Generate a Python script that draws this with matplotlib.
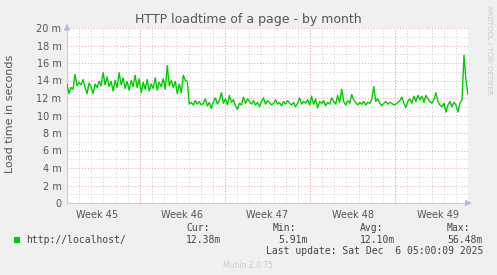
import datetime as dt
import numpy as np
import matplotlib
matplotlib.use('Agg')
import matplotlib.pyplot as plt
import matplotlib.dates as mdates

## donnees (secondes -> ms)

title = "HTTP loadtime of a page - by month"
ylabel = "Load time in seconds"
series_name = "http://localhost/"

start = dt.datetime(2025, 11, 3, 0, 0)
end = dt.datetime(2025, 12, 6, 0, 0)

# avant la chute (~10 jours)
load_high = [13.6, 12.5, 13.2, 13.0, 14.7, 13.4, 13.8, 13.5, 14.1, 13.2,
             12.5, 13.7, 13.3, 12.5, 13.6, 13.2, 13.9, 13.4, 14.9, 13.5,
             14.4, 13.3, 13.9, 12.8, 14.0, 13.2, 14.9, 13.5, 14.3, 13.1,
             13.9, 12.9, 14.0, 13.3, 14.6, 13.2, 14.2, 12.6, 13.8, 13.0,
             14.1, 12.8, 13.6, 13.1, 14.3, 12.9, 13.8, 13.3, 14.2, 13.0,
             15.7, 13.4, 14.0, 13.2, 13.9, 12.5, 13.6, 12.6, 14.6, 14.0,
             13.9]
# apres la chute
load_low = [11.3, 11.5, 11.2, 11.7, 11.3, 11.6, 11.2, 11.4, 11.9, 11.1,
            11.5, 10.8, 11.6, 12.0, 11.3, 11.7, 12.6, 11.4, 11.9, 11.2,
            12.3, 11.5, 11.8, 11.1, 10.7, 11.4, 11.2, 12.1, 11.4, 11.9,
            11.6, 11.3, 11.7, 11.2, 11.5, 11.0, 11.6, 12.0, 11.3, 11.7,
            11.5, 11.2, 11.4, 11.8, 11.3, 11.5, 11.1, 11.6, 11.3, 11.7,
            11.4, 11.2, 11.5, 11.0, 11.4, 12.0, 11.3, 11.6, 11.4, 11.8,
            11.2, 12.2, 11.3, 11.9, 10.9, 11.6, 11.4, 11.7, 11.1, 11.5,
            11.3, 12.0, 11.6, 11.3, 12.3, 11.5, 13.0, 11.6, 11.2, 11.7,
            11.4, 12.4, 11.8, 11.5, 11.2, 11.5, 11.3, 11.6, 11.2, 11.5,
            11.4, 11.8, 13.3, 11.6, 11.9, 11.4, 11.1, 11.4, 11.6, 11.3,
            11.5, 11.4, 11.2, 11.3, 11.5, 11.7, 12.1, 11.4, 10.9, 11.6,
            11.9, 11.4, 12.2, 11.6, 12.3, 11.8, 12.2, 11.5, 12.3, 11.9,
            11.6, 11.4, 11.8, 12.6, 11.6, 11.2, 11.0, 11.4, 10.4, 11.2,
            11.6, 11.0, 11.5, 11.2, 10.4, 11.4, 11.8, 16.9, 14.0, 12.4]

week_labels = ["Week 45", "Week 46", "Week 47", "Week 48", "Week 49"]
week_starts = [dt.datetime(2025, 11, 2), dt.datetime(2025, 11, 9), dt.datetime(2025, 11, 16),
               dt.datetime(2025, 11, 23), dt.datetime(2025, 11, 30)]

yticks = list(range(0, 21, 2))
ytick_labels = ["0"] + ["%d m" % v for v in yticks[1:]]

cur, vmin, avg, vmax = "12.38m", "5.91m", "12.10m", "56.48m"
last_update = "Last update: Sat Dec  6 05:00:09 2025"

values = np.array(load_high + load_low)
t0 = mdates.date2num(start)
t1 = mdates.date2num(end)
times = np.linspace(t0, t1, len(values))

## figure

W, H = 497, 275
fig = plt.figure(figsize=(W / 100, H / 100), dpi=100)
fig.patch.set_facecolor('#F0F0F0')
ax = fig.add_axes([67 / W, (H - 203) / H, (468 - 67) / W, (203 - 28) / H])
ax.set_facecolor('white')

ax.set_xlim(t0, t1)
ax.set_ylim(0, 20)

# grille mineure (jours / 1 m)
for d in np.arange(np.ceil(t0), t1 + 0.01, 1.0):
    ax.axvline(d, color='#cfcfcf', lw=0.7, ls=(0, (1, 2)), zorder=1)
for y in range(1, 21, 2):
    ax.axhline(y, color='#cfcfcf', lw=0.7, ls=(0, (1, 2)), zorder=1)
# grille majeure (semaines / 2 m)
for w in week_starts:
    wn = mdates.date2num(w)
    if t0 < wn < t1:
        ax.axvline(wn, color='#e8a0a0', lw=0.7, ls=(0, (1, 2)), zorder=2)
for y in yticks[1:]:
    ax.axhline(y, color='#e8a0a0', lw=0.7, ls=(0, (1, 2)), zorder=2)

ax.plot(times, values, color='#00CC00', lw=1.0, zorder=3)

# axes
for s in ['top', 'right']:
    ax.spines[s].set_visible(False)
for s in ['left', 'bottom']:
    ax.spines[s].set_color('#c8c8f0')
    ax.spines[s].set_linewidth(0.8)

ax.set_yticks(yticks)
ax.set_yticklabels(ytick_labels)
label_pos = [mdates.date2num(w) + 3.5 for w in week_starts]
ax.set_xticks(label_pos)
ax.set_xticklabels(week_labels)
ax.tick_params(axis='both', length=0, labelsize=7, colors='#555555', pad=4)
ax.tick_params(axis='x', pad=5)

# fleches
ax.annotate('', xy=(t0, 20.8), xytext=(t0, 19.5), annotation_clip=False,
            arrowprops=dict(arrowstyle='-|>', color='#b8b8f0', lw=0.8, mutation_scale=9))
ax.annotate('', xy=(t1 + 0.55, 0), xytext=(t1 - 0.3, 0), annotation_clip=False,
            arrowprops=dict(arrowstyle='-|>', color='#b8b8f0', lw=0.8, mutation_scale=9))

## textes

fig.text(248 / W, 1 - 19 / H, title, ha='center', va='center', fontsize=9, color='#555555')
fig.text(10 / W, 1 - 114 / H, ylabel, rotation=90, ha='center', va='center',
         fontsize=8, color='#555555')
fig.text(489 / W, 1 - 50 / H, "RRDTOOL / TOBI OETIKER", rotation=270, ha='center', va='center',
         fontsize=5, color='#cccccc')

mono = dict(family='DejaVu Sans Mono', fontsize=7, color='#444444', va='center')
fig.patches.append(plt.Rectangle((14 / W, 1 - 243 / H), 6 / W, 6 / H, transform=fig.transFigure,
                                 facecolor='#00CC00', edgecolor='none'))
fig.text(26 / W, 1 - 240 / H, series_name, **mono)
fig.text(186 / W, 1 - 228 / H, "Cur:", **mono)
fig.text(186 / W, 1 - 240 / H, cur, **mono)
fig.text(273 / W, 1 - 228 / H, "Min:", **mono)
fig.text(308 / W, 1 - 240 / H, vmin, ha='right', **mono)
fig.text(360 / W, 1 - 228 / H, "Avg:", **mono)
fig.text(360 / W, 1 - 240 / H, avg, **mono)
fig.text(447 / W, 1 - 228 / H, "Max:", **mono)
fig.text(447 / W, 1 - 240 / H, vmax, **mono)
fig.text(483 / W, 1 - 251 / H, last_update, ha='right', **mono)
fig.text(248 / W, 1 - 265 / H, "Munin 2.0.75", ha='center', va='center', fontsize=5.5, color='#cccccc')

fig.savefig('out.png', dpi=100, facecolor=fig.get_facecolor())
